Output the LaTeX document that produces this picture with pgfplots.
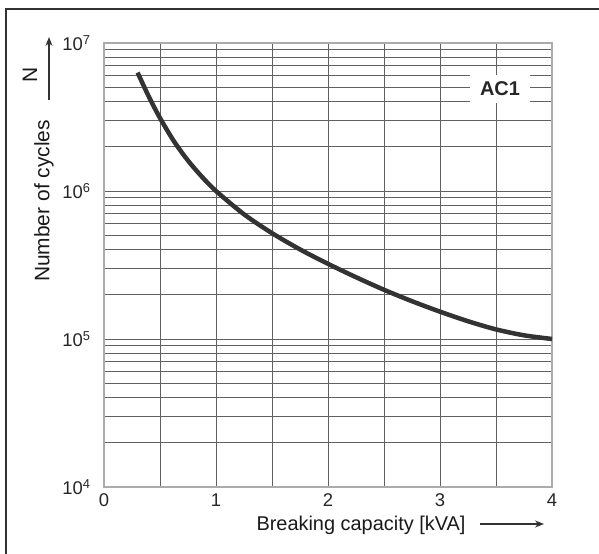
\documentclass[border=0pt]{standalone}
\usepackage{fontspec}
\setmainfont{Liberation Sans}
\usepackage{pgfplots}
\pgfplotsset{compat=1.18}
\usetikzlibrary{arrows.meta}
\definecolor{curvec}{HTML}{333333}
\definecolor{gridc}{HTML}{606060}
\definecolor{framec}{HTML}{ABABAB}
\definecolor{boxc}{HTML}{333333}
\begin{document}
\begin{tikzpicture}
\begin{axis}[
  at={(0,0)}, anchor=south west,
  width=448bp, height=444bp, scale only axis,
  xmin=0, xmax=4,
  ymode=log, ymin=1e4, ymax=1e7,
  xtick={0,1,2,3,4}, xticklabels={0,1,2,3,4},
  minor xtick={0.5,1.5,2.5,3.5},
  ytick={1e4,1e5,1e6,1e7},
  yticklabels={10\textsuperscript{4},10\textsuperscript{5},10\textsuperscript{6},10\textsuperscript{7}},
  minor ytick={2e4,3e4,4e4,5e4,6e4,7e4,8e4,9e4,
               2e5,3e5,4e5,5e5,6e5,7e5,8e5,9e5,
               2e6,3e6,4e6,5e6,6e6,7e6,8e6,9e6},
  grid=both,
  major grid style={gridc, line width=0.85bp},
  minor grid style={gridc, line width=0.85bp},
  major tick length=0pt, minor tick length=0pt,
  axis line style={framec, line width=1.6bp},
  ticklabel style={font=\fontsize{18.5}{18.5}\selectfont, text=black!85},
  xticklabel style={yshift=-3bp},
  yticklabel style={xshift=-10bp},
]
\addplot[curvec, line width=4.5bp, smooth] coordinates {
(0.3,6.31e6) (0.4,4.345e6) (0.5,3.112e6) (0.625,2.165e6) (0.75,1.605e6)
(0.875,1.246e6) (1.0,1.0e6) (1.25,6.96e5) (1.5,5.19e5) (1.75,4.03e5)
(2.0,3.22e5) (2.25,2.615e5) (2.5,2.15e5) (2.75,1.80e5) (3.0,1.53e5)
(3.25,1.318e5) (3.5,1.161e5) (3.75,1.059e5) (4.0,1.0e5)
};
\node[fill=white, inner xsep=10bp, inner ysep=7bp,
      font=\fontsize{20}{20}\selectfont\bfseries, text=black!85]
  at (axis cs:3.536,4.89e6) {AC1};
\end{axis}
% labels outside the axis
\node[rotate=90, font=\fontsize{21}{21}\selectfont, text=black!90]
  at (-60bp,286bp) {Number of cycles};
\node[rotate=90, font=\fontsize{21}{21}\selectfont, text=black!90]
  at (-74bp,412bp) {N};
\draw[boxc, line width=1.3bp, -{Stealth[length=9bp,width=7bp]}]
  (-55bp,387bp) -- (-55bp,450bp);
\node[font=\fontsize{20}{20}\selectfont, text=black!90]
  at (257bp,-38bp) {Breaking capacity [kVA]};
\draw[boxc, line width=1.3bp, -{Stealth[length=9bp,width=7bp]}]
  (376bp,-37bp) -- (440bp,-37bp);
% outer frame (top and left)
\draw[boxc, line width=1.7bp] (495bp,478bp) -- (-98bp,478bp) -- (-98bp,-67bp);
\pgfresetboundingbox
\path[use as bounding box] (-104bp,-67bp) rectangle (495bp,487bp);
\end{tikzpicture}
\end{document}
